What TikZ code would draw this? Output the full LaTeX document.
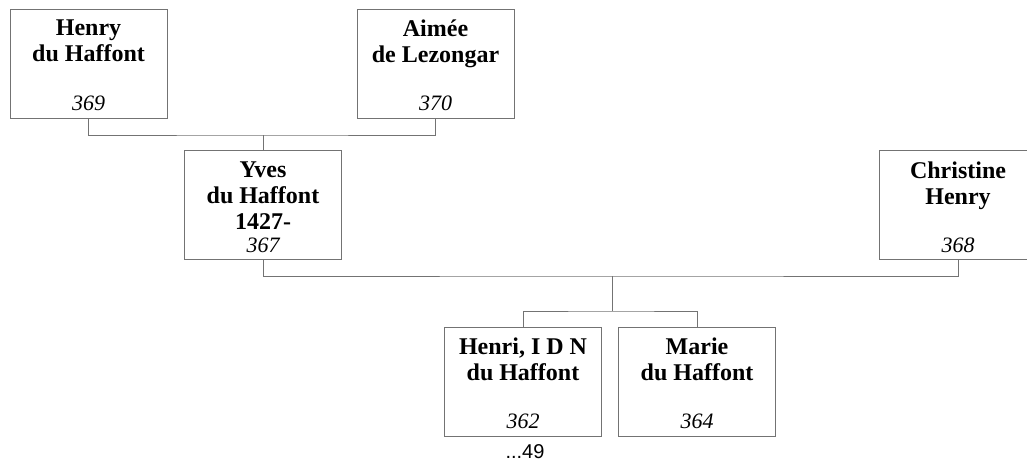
\documentclass[tikz,border=0pt]{standalone}
\usepackage{fontspec}
\setmainfont{Liberation Serif}
\setsansfont{Liberation Sans}
\usepackage{tikz}
\usetikzlibrary{positioning}

\begin{document}
\begin{tikzpicture}[
    x=0.5pt, y=-0.5pt,
    person/.style={rectangle, draw=black!55, line width=0.5pt, minimum width=78.5pt, minimum height=54.5pt, inner sep=0pt},
    pname/.style={font=\fontsize{12}{13}\selectfont\bfseries, align=center, anchor=north, inner sep=0pt},
    pnum/.style={font=\fontsize{11}{13}\selectfont\itshape, anchor=base, inner sep=0pt},
    pnote/.style={font=\fontsize{10}{12}\selectfont\sffamily, anchor=base, inner sep=0pt},
    link/.style={draw=black!55, line width=0.5pt},
]
\useasboundingbox (0,0) rectangle (1027,461);

% Grandparents
\node[person] (henry) at (88.5,63.5) {};
\node[pname, below=5.5pt of henry.north] (henryname) {Henry\\du Haffont};
\node[pnum] (henrynum) at ([yshift=4pt]henry.south) {369};

\node[person] (aimee) at (435.5,63.5) {};
\node[pname, below=5.5pt of aimee.north] (aimeename) {Aimée\\de Lezongar};
\node[pnum] (aimeenum) at ([yshift=4pt]aimee.south) {370};

% Parents
\node[person] (yves) at (263,205) {};
\node[pname, below=5.5pt of yves.north] (yvesname) {Yves\\du Haffont\\1427-};
\node[pnum] (yvesnum) at ([yshift=4pt]yves.south) {367};

\node[person] (christine) at (958,205) {};
\node[pname, below=5.5pt of christine.north] (christinename) {Christine\\Henry};
\node[pnum] (christinenum) at ([yshift=4pt]christine.south) {368};

% Children
\node[person] (henri) at (523,381.5) {};
\node[pname, below=5.5pt of henri.north] (henriname) {Henri, I D N\\du Haffont};
\node[pnum] (henrinum) at ([yshift=4pt]henri.south) {362};
\node[pnote] (henrimore) at ([xshift=1pt, yshift=-11pt]henri.south) {...49};

\node[person] (marie) at (697,381.5) {};
\node[pname, below=5.5pt of marie.north] (mariename) {Marie\\du Haffont};
\node[pnum] (marienum) at ([yshift=4pt]marie.south) {364};

% Connectors
\coordinate (fam1) at (263,135);
\coordinate (fam2) at (612,276);
\coordinate (sib) at (612,311);

\draw[link] (henry.south) |- (fam1) -| (aimee.south);
\draw[link] (fam1) -- (yves.north);
\draw[link] (yves.south) |- (fam2) -| (christine.south);
\draw[link] (fam2) -- (sib);
\draw[link] (henri.north) |- (sib) -| (marie.north);

\end{tikzpicture}
\end{document}
